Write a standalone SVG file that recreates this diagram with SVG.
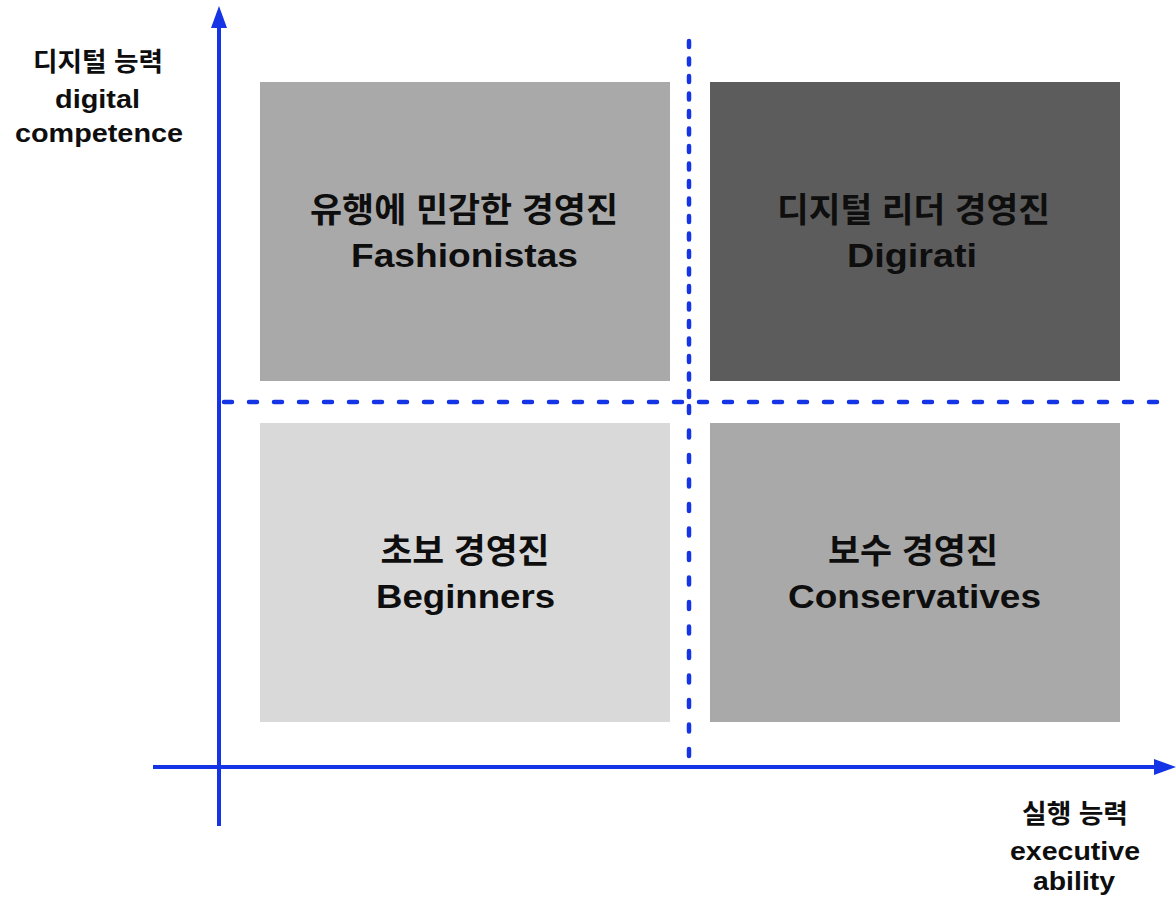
<svg xmlns="http://www.w3.org/2000/svg" width="1176" height="902" viewBox="0 0 1176 902">
<defs>
<style>
.t{font-family:"Liberation Sans","Noto Sans CJK KR",sans-serif;font-weight:bold;fill:#0e0e0e;text-anchor:middle}
.big{font-size:34px}
.ax{font-size:26px}
.axis{stroke:#1434e6;stroke-width:4;fill:none}
.dash{stroke:#1434e6;stroke-width:4.5;fill:none;stroke-linecap:round}
</style>
<marker id="arr" markerUnits="userSpaceOnUse" markerWidth="22" markerHeight="16" refX="6" refY="8" orient="auto">
<path d="M0,0 L22,8 L0,16 z" fill="#1434e6"/>
</marker>
</defs>
<rect width="1176" height="902" fill="#ffffff"/>
<g id="fashionistas">
<rect x="260" y="82" width="410" height="299" fill="#a9a9a9"/>
<text class="t big" x="464" y="222" textLength="308" lengthAdjust="spacingAndGlyphs">유행에 민감한 경영진</text>
<text class="t big" x="464.5" y="267" textLength="227" lengthAdjust="spacingAndGlyphs">Fashionistas</text>
</g>
<g id="digirati">
<rect x="710" y="82" width="410" height="299" fill="#5c5c5c"/>
<text class="t big" x="913.5" y="222" textLength="273" lengthAdjust="spacingAndGlyphs">디지털 리더 경영진</text>
<text class="t big" x="912" y="267" textLength="130" lengthAdjust="spacingAndGlyphs">Digirati</text>
</g>
<g id="beginners">
<rect x="260" y="423" width="410" height="299" fill="#d9d9d9"/>
<text class="t big" x="465" y="563" textLength="169" lengthAdjust="spacingAndGlyphs">초보 경영진</text>
<text class="t big" x="465.5" y="608" textLength="179" lengthAdjust="spacingAndGlyphs">Beginners</text>
</g>
<g id="conservatives">
<rect x="710" y="423" width="410" height="299" fill="#a9a9a9"/>
<text class="t big" x="913" y="563" textLength="170" lengthAdjust="spacingAndGlyphs">보수 경영진</text>
<text class="t big" x="914.5" y="608" textLength="253" lengthAdjust="spacingAndGlyphs">Conservatives</text>
</g>
<g id="y-label">
<text class="t ax" x="98" y="71" textLength="130" lengthAdjust="spacingAndGlyphs">디지털 능력</text>
<text class="t ax" x="97.5" y="108" textLength="85" lengthAdjust="spacingAndGlyphs">digital</text>
<text class="t ax" x="99" y="142" textLength="168" lengthAdjust="spacingAndGlyphs">competence</text>
</g>
<g id="x-label">
<text class="t ax" x="1075" y="823" textLength="106" lengthAdjust="spacingAndGlyphs">실행 능력</text>
<text class="t ax" x="1075" y="860" textLength="130" lengthAdjust="spacingAndGlyphs">executive</text>
<text class="t ax" x="1074" y="890" textLength="82" lengthAdjust="spacingAndGlyphs">ability</text>
</g>
<g id="connectors">
<line class="dash" x1="224" y1="402" x2="1160" y2="402" stroke-dasharray="8 17"/>
<line class="dash" x1="689" y1="41" x2="689" y2="398" stroke-dasharray="6 11.5"/>
<line class="dash" x1="689" y1="406" x2="689" y2="763" stroke-dasharray="7 17.5"/>
<line class="axis" x1="219" y1="826" x2="219" y2="22" marker-end="url(#arr)"/>
<line class="axis" x1="153" y1="767" x2="1160" y2="767" marker-end="url(#arr)"/>
</g>
</svg>
